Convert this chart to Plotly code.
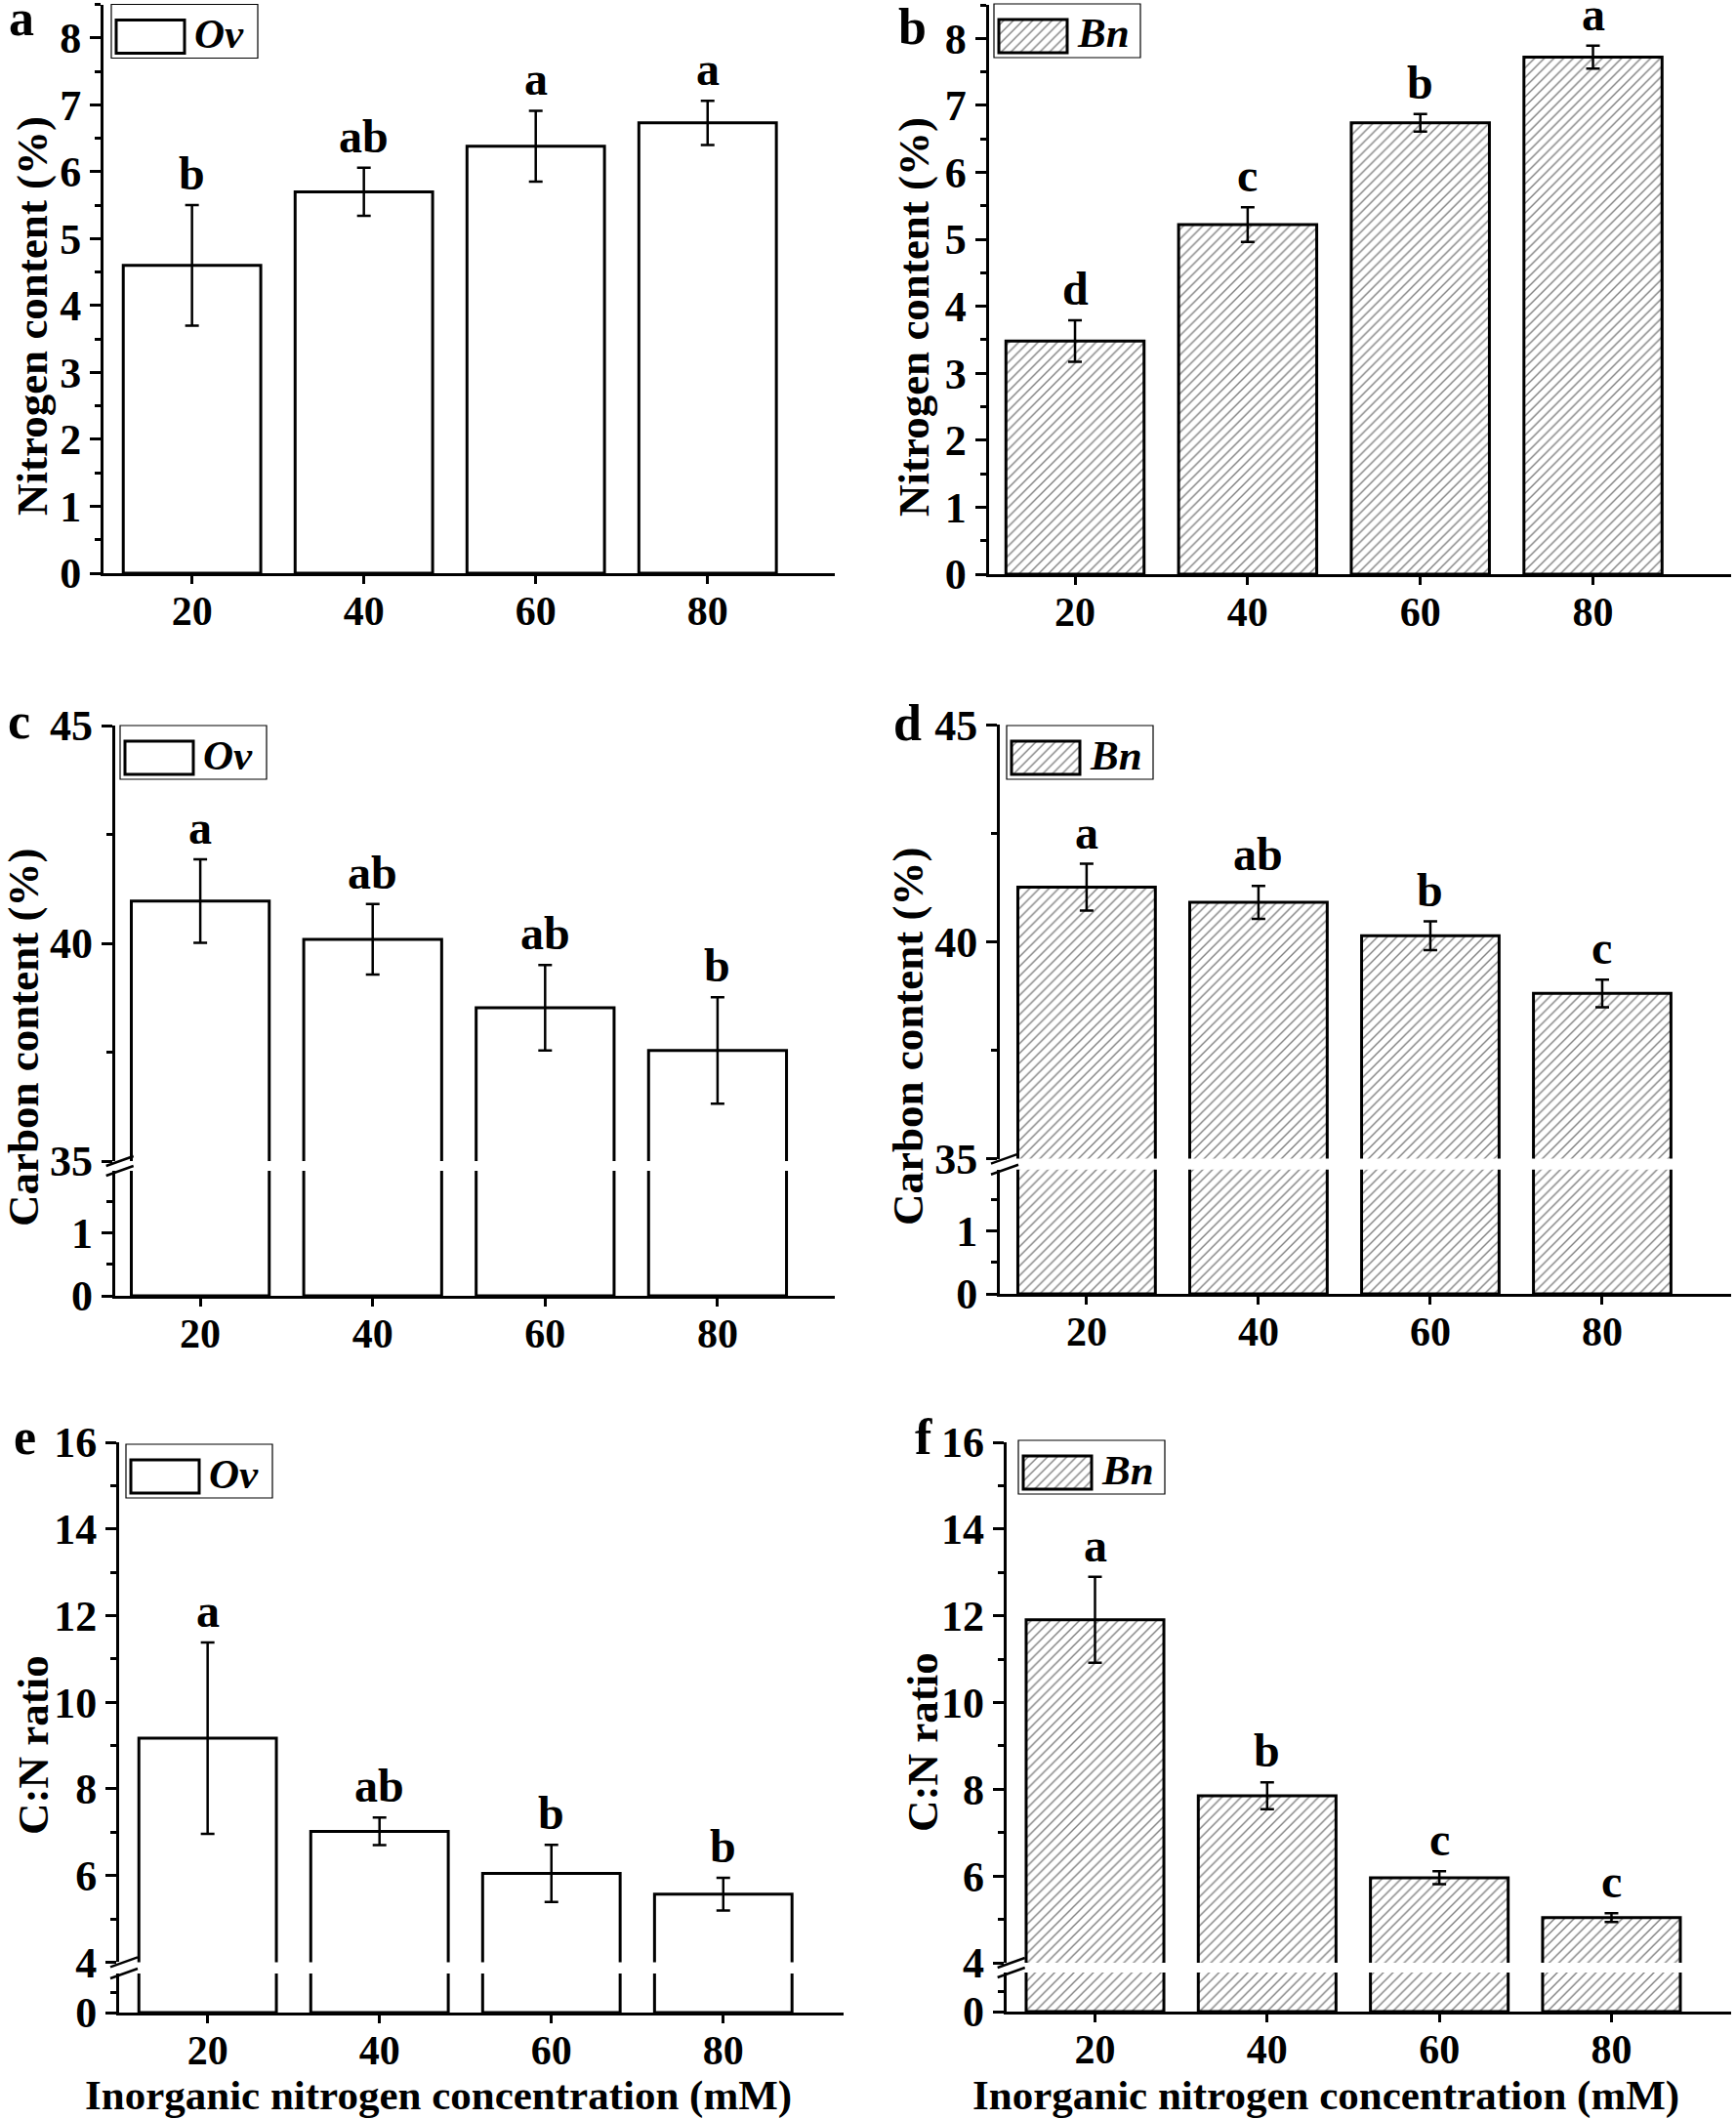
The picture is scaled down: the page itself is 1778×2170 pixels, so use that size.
import plotly.graph_objects as go

# ---------------- data ----------------
conc = [20, 40, 60, 80]
conc_labels = ["20", "40", "60", "80"]

ov_n = [4.60, 5.70, 6.38, 6.73]
ov_n_err = [0.90, 0.36, 0.53, 0.33]
ov_n_sig = ["b", "ab", "a", "a"]

bn_n = [3.48, 5.22, 6.74, 7.72]
bn_n_err = [0.31, 0.26, 0.13, 0.17]
bn_n_sig = ["d", "c", "b", "a"]

ov_c = [40.97, 40.09, 38.52, 37.54]
ov_c_err = [0.96, 0.81, 0.98, 1.22]
ov_c_sig = ["a", "ab", "ab", "b"]

bn_c = [41.26, 40.91, 40.14, 38.81]
bn_c_err = [0.54, 0.38, 0.33, 0.32]
bn_c_sig = ["a", "ab", "b", "c"]

ov_cn = [9.17, 7.02, 6.05, 5.57]
ov_cn_err = [2.21, 0.32, 0.66, 0.38]
ov_cn_sig = ["a", "ab", "b", "b"]

bn_cn = [11.91, 7.85, 5.96, 5.04]
bn_cn_err = [0.99, 0.31, 0.15, 0.10]
bn_cn_sig = ["a", "b", "c", "c"]

W, H = 1778, 2170
FONT = "Liberation Serif"


def px(x):
    return x / W


def py(y):
    return 1 - y / H


def tf(size, italic=False):
    d = dict(family=FONT, size=size, color="black", weight="bold")
    if italic:
        d["style"] = "italic"
    return d


panels = [
    dict(letter="a", vals=ov_n, err=ov_n_err, sig=ov_n_sig, hatch=False, name="Ov",
         x0=106, x1=855, xr=[9.7, 94.8],
         segs=[dict(top=4.5, bot=587, rng=[0, 8.5], dtick=1, minor=0.5)],
         title="Nitrogen content (%)", title_xy=(33, 324), letter_xy=(22, 36),
         legend_xy=(114, 4.5)),
    dict(letter="b", vals=bn_n, err=bn_n_err, sig=bn_n_sig, hatch=True, name="Bn",
         x0=1012.6, x1=1773, xr=[10, 96],
         segs=[dict(top=5, bot=588, rng=[0, 8.5], dtick=1, minor=0.5)],
         title="Nitrogen content (%)", title_xy=(936, 325), letter_xy=(934, 45),
         legend_xy=(1018, 4)),
    dict(letter="c", vals=ov_c, err=ov_c_err, sig=ov_c_sig, hatch=False, name="Ov",
         x0=117.7, x1=855, xr=[10.1, 93.6],
         segs=[dict(top=743, bot=1189, rng=[35, 45], dtick=5, minor=2.5),
               dict(top=1199, bot=1327, rng=[0, 1.98], tickvals=[0, 1], minor=0.5)],
         title="Carbon content (%)", title_xy=(24, 1063), letter_xy=(19, 756),
         legend_xy=(123, 743)),
    dict(letter="d", vals=bn_c, err=bn_c_err, sig=bn_c_sig, hatch=True, name="Bn",
         x0=1024, x1=1773, xr=[9.9, 95],
         segs=[dict(top=742.4, bot=1186.6, rng=[35, 45], dtick=5, minor=2.5),
               dict(top=1197.7, bot=1325, rng=[0, 1.98], tickvals=[0, 1], minor=0.5)],
         title="Carbon content (%)", title_xy=(930, 1062), letter_xy=(929, 758),
         legend_xy=(1031, 743)),
    dict(letter="e", vals=ov_cn, err=ov_cn_err, sig=ov_cn_sig, hatch=False, name="Ov",
         x0=122, x1=864, xr=[9.7, 94],
         segs=[dict(top=1477, bot=2009.4, rng=[4, 16], dtick=2, minor=1),
               dict(top=2021, bot=2061, rng=[0, 1.95], tickvals=[0], minor=1)],
         title="C:N ratio", title_xy=(34, 1787), letter_xy=(25, 1489),
         legend_xy=(129, 1479), xtitle_xy=(449, 2146)),
    dict(letter="f", vals=bn_cn, err=bn_cn_err, sig=bn_cn_sig, hatch=True, name="Bn",
         x0=1030.7, x1=1773, xr=[9.7, 93.9],
         segs=[dict(top=1477, bot=2010, rng=[4, 16], dtick=2, minor=1),
               dict(top=2020, bot=2060, rng=[0, 1.95], tickvals=[0], minor=1)],
         title="C:N ratio", title_xy=(945, 1784), letter_xy=(946, 1489),
         legend_xy=(1043, 1475), xtitle_xy=(1358, 2146)),
]


def marker_for(hatch):
    m = dict(color="white", line=dict(color="black", width=3))
    if hatch:
        m["pattern"] = dict(shape="/", fgcolor="black", bgcolor="white",
                            size=7, solidity=0.2)
    return m


fig = go.Figure()
layout = {}
shapes = []
annotations = []

yid = 0
for i, p in enumerate(panels):
    xn = i + 1
    xref = "x" if xn == 1 else f"x{xn}"
    xkey = "xaxis" if xn == 1 else f"xaxis{xn}"
    seg_ids = []
    for s in p["segs"]:
        yid += 1
        seg_ids.append(yid)
    bottom_y = seg_ids[-1]
    bottom_ref = "y" if bottom_y == 1 else f"y{bottom_y}"

    layout[xkey] = dict(
        domain=[px(p["x0"]), min(1.0, px(p["x1"]))], range=p["xr"], anchor=bottom_ref,
        showline=True, linewidth=3, linecolor="black", mirror=False,
        ticks="outside", ticklen=8, tickwidth=2.5, tickcolor="black",
        tickvals=conc, ticktext=conc_labels, tickfont=tf(42),
        ticklabelstandoff=-8, showgrid=False, zeroline=False, fixedrange=True,
        automargin=False,
    )

    for k, (s, yn) in enumerate(zip(p["segs"], seg_ids)):
        yref = "y" if yn == 1 else f"y{yn}"
        ykey = "yaxis" if yn == 1 else f"yaxis{yn}"
        r0, r1 = s["rng"]
        ax = dict(
            domain=[py(s["bot"]), min(1.0, py(s["top"]))], range=[r0, r1], anchor=xref,
            showline=True, linewidth=3, linecolor="black",
            ticks="outside", ticklen=11, tickwidth=2.5, tickcolor="black",
            tickfont=tf(44), showgrid=False, zeroline=False, fixedrange=True,
            automargin=False,
            minor=dict(ticks="outside", ticklen=6, tickwidth=2.5,
                       tickcolor="black", dtick=s["minor"], showgrid=False),
        )
        if "tickvals" in s:
            ax["tickvals"] = s["tickvals"]
        else:
            ax["dtick"] = s["dtick"]
            ax["tick0"] = 0
        layout[ykey] = ax

        top_seg = (k == 0)
        fig.add_trace(go.Bar(
            x=conc, y=p["vals"], width=16, xaxis=xref, yaxis=yref,
            marker=marker_for(p["hatch"]), showlegend=False,
            error_y=dict(type="data", array=p["err"], visible=top_seg,
                         color="black", thickness=2.5, width=7),
            hoverinfo="skip",
        ))
        if top_seg:
            for xv, v, e, lab in zip(conc, p["vals"], p["err"], p["sig"]):
                annotations.append(dict(
                    x=xv, y=v + e, xref=xref, yref=yref, text=lab,
                    showarrow=False, yanchor="bottom", xanchor="center",
                    yshift=4, font=tf(48)))

    # axis break marks
    if len(p["segs"]) > 1:
        axx = p["x0"]
        for yb in (p["segs"][0]["bot"], p["segs"][1]["top"]):
            shapes.append(dict(type="line", xref="paper", yref="paper",
                               x0=px(axx - 9), y0=py(yb + 5),
                               x1=px(axx + 19), y1=py(yb - 5),
                               line=dict(color="black", width=2.5)))

    # y title
    tx, ty = p["title_xy"]
    annotations.append(dict(x=px(tx), y=py(ty), xref="paper", yref="paper",
                            text=p["title"], textangle=-90, showarrow=False,
                            xanchor="center", yanchor="middle", font=tf(45)))
    # panel letter
    lx, lb = p["letter_xy"]
    annotations.append(dict(x=px(lx), y=py(lb - 0.34 * 52), xref="paper", yref="paper",
                            text=p["letter"], showarrow=False,
                            xanchor="center", yanchor="middle", font=tf(52)))
    # x title
    if "xtitle_xy" in p:
        xx, xy = p["xtitle_xy"]
        annotations.append(dict(x=px(xx), y=py(xy), xref="paper", yref="paper",
                                text="Inorganic nitrogen concentration (mM)",
                                showarrow=False, xanchor="center",
                                yanchor="middle", font=tf(43)))

    # legend box (key)
    gx, gy = p["legend_xy"]
    shapes.append(dict(type="rect", xref="paper", yref="paper",
                       x0=px(gx), x1=px(gx + 150), y0=py(gy), y1=py(gy + 55),
                       line=dict(color="black", width=1.2),
                       fillcolor="rgba(0,0,0,0)", layer="below"))
    annotations.append(dict(x=px(gx + 83), y=py(gy + 30), xref="paper", yref="paper",
                            text=p["name"], showarrow=False, xanchor="left",
                            yanchor="middle", font=tf(43, italic=True)))

# legend key swatches drawn as small bars in their own tiny axes
for i, p in enumerate(panels):
    gx, gy = p["legend_xy"]
    sx = 7 + i
    sy = yid + 1 + i
    sxref, syref = f"x{sx}", f"y{sy}"
    pad_x = 2.0 / 70
    pad_y = 2.0 / 34
    layout[f"xaxis{sx}"] = dict(domain=[px(gx + 5 - 2), px(gx + 75 + 2)],
                                range=[-0.5 - pad_x, 0.5 + pad_x], anchor=syref,
                                visible=False, fixedrange=True)
    layout[f"yaxis{sy}"] = dict(domain=[py(gy + 50 + 2), py(gy + 16 - 2)],
                                range=[-pad_y, 1 + pad_y], anchor=sxref,
                                visible=False, fixedrange=True)
    fig.add_trace(go.Bar(x=[0], y=[1], width=[1], xaxis=sxref, yaxis=syref,
                         marker=marker_for(p["hatch"]), showlegend=False,
                         hoverinfo="skip"))

fig.update_layout(
    width=W, height=H,
    margin=dict(l=0, r=0, t=0, b=0, autoexpand=False),
    paper_bgcolor="white", plot_bgcolor="rgba(0,0,0,0)",
    showlegend=False, shapes=shapes, annotations=annotations,
    font=dict(family=FONT, color="black"),
    **layout,
)

fig.write_html(
    "out.html",
    config={"displayModeBar": False},
    post_script="document.body.style.margin='0';document.body.style.overflow='hidden';",
)
